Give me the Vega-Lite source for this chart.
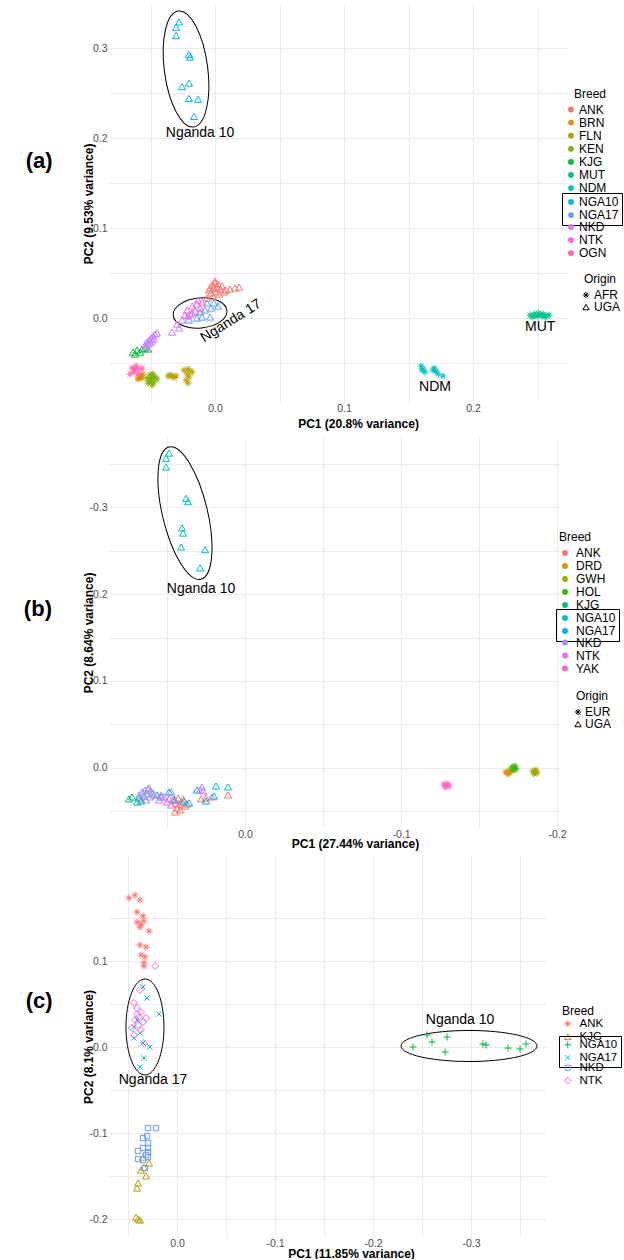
{
  "$schema": "https://vega.github.io/schema/vega-lite/v6.json",
  "padding": {"left": 23, "top": 5, "right": 0, "bottom": 0},
  "spacing": 7,
  "config": {
    "font": "Liberation Sans",
    "view": {"stroke": null},
    "axis": {"domain": false, "ticks": false, "grid": true, "gridColor": "#EBEBEB", "gridWidth": 1, "labelColor": "#4D4D4D", "labelFontSize": 10.5, "labelFont": "Liberation Sans", "titleFont": "Liberation Sans", "titleFontSize": 12, "titleFontWeight": "bold", "titleColor": "#000000", "labelPadding": 2},
    "axisX": {"labelPadding": 1, "titleBaseline": "middle"},
    "axisY": {"labelPadding": 2, "titleBaseline": "middle"},
    "legend": {"labelFont": "Liberation Sans", "titleFont": "Liberation Sans", "labelFontSize": 12, "titleFontSize": 12, "titleFontWeight": "normal", "labelColor": "#000000", "titleColor": "#000000", "rowPadding": -0.9, "titlePadding": 3, "labelOffset": 2, "padding": 0, "direction": "vertical"},
    "text": {"font": "Liberation Sans"},
    "title": {"font": "Liberation Sans"}
  },
  "datasets": {
    "a": [
      {"pc1": -0.0047, "pc2": 0.0311, "breed": "ANK", "origin": "UGA"},
      {"pc1": -0.0023, "pc2": 0.0367, "breed": "ANK", "origin": "UGA"},
      {"pc1": -0.0008, "pc2": 0.0333, "breed": "ANK", "origin": "UGA"},
      {"pc1": 0.0, "pc2": 0.0389, "breed": "ANK", "origin": "UGA"},
      {"pc1": 0.0016, "pc2": 0.0344, "breed": "ANK", "origin": "UGA"},
      {"pc1": -0.0031, "pc2": 0.0278, "breed": "ANK", "origin": "UGA"},
      {"pc1": 0.0008, "pc2": 0.0289, "breed": "ANK", "origin": "UGA"},
      {"pc1": 0.0039, "pc2": 0.0322, "breed": "ANK", "origin": "UGA"},
      {"pc1": -0.0016, "pc2": 0.0244, "breed": "ANK", "origin": "UGA"},
      {"pc1": 0.0023, "pc2": 0.0378, "breed": "ANK", "origin": "UGA"},
      {"pc1": 0.0054, "pc2": 0.0356, "breed": "ANK", "origin": "UGA"},
      {"pc1": 0.0085, "pc2": 0.0311, "breed": "ANK", "origin": "UGA"},
      {"pc1": 0.0116, "pc2": 0.0322, "breed": "ANK", "origin": "UGA"},
      {"pc1": 0.0155, "pc2": 0.0333, "breed": "ANK", "origin": "UGA"},
      {"pc1": 0.0186, "pc2": 0.0344, "breed": "ANK", "origin": "UGA"},
      {"pc1": -0.0062, "pc2": 0.0222, "breed": "ANK", "origin": "UGA"},
      {"pc1": 0.0, "pc2": 0.0411, "breed": "ANK", "origin": "UGA"},
      {"pc1": 0.0031, "pc2": 0.0267, "breed": "ANK", "origin": "UGA"},
      {"pc1": 0.007, "pc2": 0.0289, "breed": "ANK", "origin": "UGA"},
      {"pc1": -0.0039, "pc2": 0.0333, "breed": "ANK", "origin": "UGA"},
      {"pc1": -0.0581, "pc2": -0.0644, "breed": "BRN", "origin": "AFR"},
      {"pc1": -0.0566, "pc2": -0.0667, "breed": "BRN", "origin": "AFR"},
      {"pc1": -0.0597, "pc2": -0.0678, "breed": "BRN", "origin": "AFR"},
      {"pc1": -0.0558, "pc2": -0.0622, "breed": "BRN", "origin": "AFR"},
      {"pc1": -0.0575, "pc2": -0.0655, "breed": "BRN", "origin": "AFR"},
      {"pc1": -0.059, "pc2": -0.066, "breed": "BRN", "origin": "AFR"},
      {"pc1": -0.0364, "pc2": -0.0644, "breed": "FLN", "origin": "AFR"},
      {"pc1": -0.0333, "pc2": -0.0644, "breed": "FLN", "origin": "AFR"},
      {"pc1": -0.0302, "pc2": -0.0644, "breed": "FLN", "origin": "AFR"},
      {"pc1": -0.024, "pc2": -0.0578, "breed": "FLN", "origin": "AFR"},
      {"pc1": -0.0209, "pc2": -0.0567, "breed": "FLN", "origin": "AFR"},
      {"pc1": -0.0194, "pc2": -0.0589, "breed": "FLN", "origin": "AFR"},
      {"pc1": -0.0217, "pc2": -0.0622, "breed": "FLN", "origin": "AFR"},
      {"pc1": -0.0202, "pc2": -0.0656, "breed": "FLN", "origin": "AFR"},
      {"pc1": -0.0225, "pc2": -0.0689, "breed": "FLN", "origin": "AFR"},
      {"pc1": -0.0209, "pc2": -0.0722, "breed": "FLN", "origin": "AFR"},
      {"pc1": -0.0178, "pc2": -0.06, "breed": "FLN", "origin": "AFR"},
      {"pc1": -0.0348, "pc2": -0.0633, "breed": "FLN", "origin": "AFR"},
      {"pc1": -0.0318, "pc2": -0.066, "breed": "FLN", "origin": "AFR"},
      {"pc1": -0.0527, "pc2": -0.0667, "breed": "KEN", "origin": "AFR"},
      {"pc1": -0.0504, "pc2": -0.0633, "breed": "KEN", "origin": "AFR"},
      {"pc1": -0.0481, "pc2": -0.0622, "breed": "KEN", "origin": "AFR"},
      {"pc1": -0.0465, "pc2": -0.0656, "breed": "KEN", "origin": "AFR"},
      {"pc1": -0.0496, "pc2": -0.0689, "breed": "KEN", "origin": "AFR"},
      {"pc1": -0.0519, "pc2": -0.0722, "breed": "KEN", "origin": "AFR"},
      {"pc1": -0.0473, "pc2": -0.0711, "breed": "KEN", "origin": "AFR"},
      {"pc1": -0.045, "pc2": -0.0678, "breed": "KEN", "origin": "AFR"},
      {"pc1": -0.0488, "pc2": -0.0744, "breed": "KEN", "origin": "AFR"},
      {"pc1": -0.051, "pc2": -0.07, "breed": "KEN", "origin": "AFR"},
      {"pc1": -0.0492, "pc2": -0.066, "breed": "KEN", "origin": "AFR"},
      {"pc1": -0.0636, "pc2": -0.0378, "breed": "KJG", "origin": "UGA"},
      {"pc1": -0.0605, "pc2": -0.0356, "breed": "KJG", "origin": "UGA"},
      {"pc1": -0.0566, "pc2": -0.0344, "breed": "KJG", "origin": "UGA"},
      {"pc1": -0.0543, "pc2": -0.0333, "breed": "KJG", "origin": "UGA"},
      {"pc1": -0.0519, "pc2": -0.0344, "breed": "KJG", "origin": "UGA"},
      {"pc1": -0.0581, "pc2": -0.0378, "breed": "KJG", "origin": "UGA"},
      {"pc1": -0.062, "pc2": -0.04, "breed": "KJG", "origin": "UGA"},
      {"pc1": 0.2442, "pc2": 0.0033, "breed": "MUT", "origin": "AFR"},
      {"pc1": 0.2473, "pc2": 0.0044, "breed": "MUT", "origin": "AFR"},
      {"pc1": 0.2496, "pc2": 0.0022, "breed": "MUT", "origin": "AFR"},
      {"pc1": 0.2519, "pc2": 0.0033, "breed": "MUT", "origin": "AFR"},
      {"pc1": 0.2543, "pc2": 0.0044, "breed": "MUT", "origin": "AFR"},
      {"pc1": 0.2566, "pc2": 0.0022, "breed": "MUT", "origin": "AFR"},
      {"pc1": 0.2589, "pc2": 0.0033, "breed": "MUT", "origin": "AFR"},
      {"pc1": 0.2457, "pc2": 0.0011, "breed": "MUT", "origin": "AFR"},
      {"pc1": 0.2504, "pc2": 0.0056, "breed": "MUT", "origin": "AFR"},
      {"pc1": 0.2558, "pc2": 0.0011, "breed": "MUT", "origin": "AFR"},
      {"pc1": 0.2481, "pc2": 0.0028, "breed": "MUT", "origin": "AFR"},
      {"pc1": 0.2535, "pc2": 0.0025, "breed": "MUT", "origin": "AFR"},
      {"pc1": 0.1597, "pc2": -0.0533, "breed": "NDM", "origin": "AFR"},
      {"pc1": 0.1612, "pc2": -0.0567, "breed": "NDM", "origin": "AFR"},
      {"pc1": 0.1628, "pc2": -0.06, "breed": "NDM", "origin": "AFR"},
      {"pc1": 0.169, "pc2": -0.0578, "breed": "NDM", "origin": "AFR"},
      {"pc1": 0.1713, "pc2": -0.0589, "breed": "NDM", "origin": "AFR"},
      {"pc1": 0.1729, "pc2": -0.0622, "breed": "NDM", "origin": "AFR"},
      {"pc1": 0.1767, "pc2": -0.0644, "breed": "NDM", "origin": "AFR"},
      {"pc1": 0.1698, "pc2": -0.0556, "breed": "NDM", "origin": "AFR"},
      {"pc1": 0.1605, "pc2": -0.0578, "breed": "NDM", "origin": "AFR"},
      {"pc1": -0.0279, "pc2": 0.329, "breed": "NGA10", "origin": "UGA"},
      {"pc1": -0.0302, "pc2": 0.323, "breed": "NGA10", "origin": "UGA"},
      {"pc1": -0.0302, "pc2": 0.314, "breed": "NGA10", "origin": "UGA"},
      {"pc1": -0.0202, "pc2": 0.293, "breed": "NGA10", "origin": "UGA"},
      {"pc1": -0.0194, "pc2": 0.29, "breed": "NGA10", "origin": "UGA"},
      {"pc1": -0.0202, "pc2": 0.261, "breed": "NGA10", "origin": "UGA"},
      {"pc1": -0.0256, "pc2": 0.257, "breed": "NGA10", "origin": "UGA"},
      {"pc1": -0.0202, "pc2": 0.244, "breed": "NGA10", "origin": "UGA"},
      {"pc1": -0.0132, "pc2": 0.243, "breed": "NGA10", "origin": "UGA"},
      {"pc1": -0.0163, "pc2": 0.224, "breed": "NGA10", "origin": "UGA"},
      {"pc1": -0.0178, "pc2": 0.0056, "breed": "NGA17", "origin": "UGA"},
      {"pc1": -0.0116, "pc2": 0.0067, "breed": "NGA17", "origin": "UGA"},
      {"pc1": -0.0101, "pc2": 0.0011, "breed": "NGA17", "origin": "UGA"},
      {"pc1": -0.0039, "pc2": 0.0011, "breed": "NGA17", "origin": "UGA"},
      {"pc1": -0.0062, "pc2": 0.0167, "breed": "NGA17", "origin": "UGA"},
      {"pc1": -0.0008, "pc2": 0.0167, "breed": "NGA17", "origin": "UGA"},
      {"pc1": 0.0023, "pc2": 0.0133, "breed": "NGA17", "origin": "UGA"},
      {"pc1": -0.0031, "pc2": 0.0111, "breed": "NGA17", "origin": "UGA"},
      {"pc1": -0.014, "pc2": 0.0, "breed": "NGA17", "origin": "UGA"},
      {"pc1": -0.0202, "pc2": -0.0022, "breed": "NGA17", "origin": "UGA"},
      {"pc1": -0.0078, "pc2": 0.0089, "breed": "NGA17", "origin": "UGA"},
      {"pc1": -0.0333, "pc2": -0.0156, "breed": "NKD", "origin": "UGA"},
      {"pc1": -0.0279, "pc2": -0.0111, "breed": "NKD", "origin": "UGA"},
      {"pc1": -0.0256, "pc2": -0.0022, "breed": "NKD", "origin": "UGA"},
      {"pc1": -0.0209, "pc2": 0.0022, "breed": "NKD", "origin": "UGA"},
      {"pc1": -0.0295, "pc2": -0.0067, "breed": "NKD", "origin": "UGA"},
      {"pc1": -0.0543, "pc2": -0.03, "breed": "NKD", "origin": "UGA"},
      {"pc1": -0.0527, "pc2": -0.0267, "breed": "NKD", "origin": "UGA"},
      {"pc1": -0.0512, "pc2": -0.0244, "breed": "NKD", "origin": "UGA"},
      {"pc1": -0.0496, "pc2": -0.0222, "breed": "NKD", "origin": "UGA"},
      {"pc1": -0.0481, "pc2": -0.02, "breed": "NKD", "origin": "UGA"},
      {"pc1": -0.0465, "pc2": -0.0178, "breed": "NKD", "origin": "UGA"},
      {"pc1": -0.0519, "pc2": -0.0289, "breed": "NKD", "origin": "UGA"},
      {"pc1": -0.0488, "pc2": -0.0256, "breed": "NKD", "origin": "UGA"},
      {"pc1": -0.0473, "pc2": -0.0233, "breed": "NKD", "origin": "UGA"},
      {"pc1": -0.0504, "pc2": -0.0278, "breed": "NKD", "origin": "UGA"},
      {"pc1": -0.045, "pc2": -0.0167, "breed": "NKD", "origin": "UGA"},
      {"pc1": -0.0535, "pc2": -0.0322, "breed": "NKD", "origin": "UGA"},
      {"pc1": -0.0217, "pc2": 0.0089, "breed": "NTK", "origin": "UGA"},
      {"pc1": -0.0178, "pc2": 0.0133, "breed": "NTK", "origin": "UGA"},
      {"pc1": -0.014, "pc2": 0.0156, "breed": "NTK", "origin": "UGA"},
      {"pc1": -0.0116, "pc2": 0.0111, "breed": "NTK", "origin": "UGA"},
      {"pc1": -0.0194, "pc2": 0.0044, "breed": "NTK", "origin": "UGA"},
      {"pc1": -0.0155, "pc2": 0.0078, "breed": "NTK", "origin": "UGA"},
      {"pc1": -0.0101, "pc2": 0.0178, "breed": "NTK", "origin": "UGA"},
      {"pc1": -0.0233, "pc2": 0.0033, "breed": "NTK", "origin": "UGA"},
      {"pc1": -0.0132, "pc2": 0.02, "breed": "NTK", "origin": "UGA"},
      {"pc1": -0.0643, "pc2": -0.0556, "breed": "OGN", "origin": "AFR"},
      {"pc1": -0.0612, "pc2": -0.0533, "breed": "OGN", "origin": "AFR"},
      {"pc1": -0.0589, "pc2": -0.0578, "breed": "OGN", "origin": "AFR"},
      {"pc1": -0.0628, "pc2": -0.06, "breed": "OGN", "origin": "AFR"},
      {"pc1": -0.0659, "pc2": -0.0622, "breed": "OGN", "origin": "AFR"},
      {"pc1": -0.0597, "pc2": -0.0622, "breed": "OGN", "origin": "AFR"},
      {"pc1": -0.0566, "pc2": -0.0556, "breed": "OGN", "origin": "AFR"},
      {"pc1": -0.062, "pc2": -0.0567, "breed": "OGN", "origin": "AFR"}
    ],
    "b": [
      {"pc1": 0.0462, "pc2": 0.0368, "breed": "ANK", "origin": "UGA"},
      {"pc1": 0.0442, "pc2": 0.0402, "breed": "ANK", "origin": "UGA"},
      {"pc1": 0.0423, "pc2": 0.0425, "breed": "ANK", "origin": "UGA"},
      {"pc1": 0.0404, "pc2": 0.0391, "breed": "ANK", "origin": "UGA"},
      {"pc1": 0.0385, "pc2": 0.0437, "breed": "ANK", "origin": "UGA"},
      {"pc1": 0.0436, "pc2": 0.046, "breed": "ANK", "origin": "UGA"},
      {"pc1": 0.0417, "pc2": 0.0483, "breed": "ANK", "origin": "UGA"},
      {"pc1": 0.0449, "pc2": 0.0506, "breed": "ANK", "origin": "UGA"},
      {"pc1": 0.0397, "pc2": 0.0356, "breed": "ANK", "origin": "UGA"},
      {"pc1": 0.0429, "pc2": 0.0345, "breed": "ANK", "origin": "UGA"},
      {"pc1": 0.0282, "pc2": 0.0356, "breed": "ANK", "origin": "UGA"},
      {"pc1": 0.025, "pc2": 0.0345, "breed": "ANK", "origin": "UGA"},
      {"pc1": 0.0212, "pc2": 0.0333, "breed": "ANK", "origin": "UGA"},
      {"pc1": 0.0109, "pc2": 0.031, "breed": "ANK", "origin": "UGA"},
      {"pc1": 0.0372, "pc2": 0.0414, "breed": "ANK", "origin": "UGA"},
      {"pc1": -0.1673, "pc2": 0.0046, "breed": "DRD", "origin": "EUR"},
      {"pc1": -0.1692, "pc2": 0.0057, "breed": "DRD", "origin": "EUR"},
      {"pc1": -0.1705, "pc2": 0.0034, "breed": "DRD", "origin": "EUR"},
      {"pc1": -0.1686, "pc2": 0.0069, "breed": "DRD", "origin": "EUR"},
      {"pc1": -0.168, "pc2": 0.005, "breed": "DRD", "origin": "EUR"},
      {"pc1": -0.1846, "pc2": 0.0034, "breed": "GWH", "origin": "EUR"},
      {"pc1": -0.1859, "pc2": 0.0046, "breed": "GWH", "origin": "EUR"},
      {"pc1": -0.1872, "pc2": 0.0057, "breed": "GWH", "origin": "EUR"},
      {"pc1": -0.1865, "pc2": 0.0023, "breed": "GWH", "origin": "EUR"},
      {"pc1": -0.1853, "pc2": 0.0069, "breed": "GWH", "origin": "EUR"},
      {"pc1": -0.1718, "pc2": -0.0011, "breed": "HOL", "origin": "EUR"},
      {"pc1": -0.1731, "pc2": -0.0023, "breed": "HOL", "origin": "EUR"},
      {"pc1": -0.1737, "pc2": 0.0011, "breed": "HOL", "origin": "EUR"},
      {"pc1": -0.1724, "pc2": 0.0023, "breed": "HOL", "origin": "EUR"},
      {"pc1": -0.171, "pc2": 0.0, "breed": "HOL", "origin": "EUR"},
      {"pc1": 0.0744, "pc2": 0.0356, "breed": "KJG", "origin": "UGA"},
      {"pc1": 0.0724, "pc2": 0.0333, "breed": "KJG", "origin": "UGA"},
      {"pc1": 0.0667, "pc2": 0.0379, "breed": "KJG", "origin": "UGA"},
      {"pc1": 0.0679, "pc2": 0.0345, "breed": "KJG", "origin": "UGA"},
      {"pc1": 0.0692, "pc2": 0.0391, "breed": "KJG", "origin": "UGA"},
      {"pc1": 0.0487, "pc2": -0.362, "breed": "NGA10", "origin": "UGA"},
      {"pc1": 0.0506, "pc2": -0.356, "breed": "NGA10", "origin": "UGA"},
      {"pc1": 0.0506, "pc2": -0.346, "breed": "NGA10", "origin": "UGA"},
      {"pc1": 0.0378, "pc2": -0.31, "breed": "NGA10", "origin": "UGA"},
      {"pc1": 0.0365, "pc2": -0.306, "breed": "NGA10", "origin": "UGA"},
      {"pc1": 0.0404, "pc2": -0.276, "breed": "NGA10", "origin": "UGA"},
      {"pc1": 0.0397, "pc2": -0.27, "breed": "NGA10", "origin": "UGA"},
      {"pc1": 0.041, "pc2": -0.254, "breed": "NGA10", "origin": "UGA"},
      {"pc1": 0.0256, "pc2": -0.251, "breed": "NGA10", "origin": "UGA"},
      {"pc1": 0.0288, "pc2": -0.23, "breed": "NGA10", "origin": "UGA"},
      {"pc1": 0.0564, "pc2": 0.031, "breed": "NGA17", "origin": "UGA"},
      {"pc1": 0.0487, "pc2": 0.0276, "breed": "NGA17", "origin": "UGA"},
      {"pc1": 0.0359, "pc2": 0.0402, "breed": "NGA17", "origin": "UGA"},
      {"pc1": 0.0308, "pc2": 0.0253, "breed": "NGA17", "origin": "UGA"},
      {"pc1": 0.0186, "pc2": 0.0207, "breed": "NGA17", "origin": "UGA"},
      {"pc1": 0.0109, "pc2": 0.0218, "breed": "NGA17", "origin": "UGA"},
      {"pc1": 0.0199, "pc2": 0.0322, "breed": "NGA17", "origin": "UGA"},
      {"pc1": 0.025, "pc2": 0.0379, "breed": "NGA17", "origin": "UGA"},
      {"pc1": 0.0449, "pc2": 0.0368, "breed": "NGA17", "origin": "UGA"},
      {"pc1": 0.0538, "pc2": 0.0333, "breed": "NGA17", "origin": "UGA"},
      {"pc1": 0.0391, "pc2": 0.0379, "breed": "NGA17", "origin": "UGA"},
      {"pc1": 0.0679, "pc2": 0.031, "breed": "NKD", "origin": "UGA"},
      {"pc1": 0.066, "pc2": 0.0276, "breed": "NKD", "origin": "UGA"},
      {"pc1": 0.0641, "pc2": 0.0253, "breed": "NKD", "origin": "UGA"},
      {"pc1": 0.0622, "pc2": 0.0241, "breed": "NKD", "origin": "UGA"},
      {"pc1": 0.0603, "pc2": 0.0264, "breed": "NKD", "origin": "UGA"},
      {"pc1": 0.0647, "pc2": 0.0322, "breed": "NKD", "origin": "UGA"},
      {"pc1": 0.0628, "pc2": 0.0299, "breed": "NKD", "origin": "UGA"},
      {"pc1": 0.0609, "pc2": 0.0333, "breed": "NKD", "origin": "UGA"},
      {"pc1": 0.059, "pc2": 0.0287, "breed": "NKD", "origin": "UGA"},
      {"pc1": 0.0667, "pc2": 0.0356, "breed": "NKD", "origin": "UGA"},
      {"pc1": 0.0635, "pc2": 0.0368, "breed": "NKD", "origin": "UGA"},
      {"pc1": 0.0615, "pc2": 0.023, "breed": "NKD", "origin": "UGA"},
      {"pc1": 0.0583, "pc2": 0.031, "breed": "NKD", "origin": "UGA"},
      {"pc1": 0.0276, "pc2": 0.0218, "breed": "NKD", "origin": "UGA"},
      {"pc1": 0.0288, "pc2": 0.0253, "breed": "NKD", "origin": "UGA"},
      {"pc1": 0.0474, "pc2": 0.0276, "breed": "NKD", "origin": "UGA"},
      {"pc1": 0.0455, "pc2": 0.0356, "breed": "NKD", "origin": "UGA"},
      {"pc1": 0.0551, "pc2": 0.0368, "breed": "NTK", "origin": "UGA"},
      {"pc1": 0.0519, "pc2": 0.0333, "breed": "NTK", "origin": "UGA"},
      {"pc1": 0.05, "pc2": 0.0391, "breed": "NTK", "origin": "UGA"},
      {"pc1": 0.0538, "pc2": 0.031, "breed": "NTK", "origin": "UGA"},
      {"pc1": 0.0474, "pc2": 0.0425, "breed": "NTK", "origin": "UGA"},
      {"pc1": 0.0269, "pc2": 0.0264, "breed": "NTK", "origin": "UGA"},
      {"pc1": 0.0487, "pc2": 0.0356, "breed": "NTK", "origin": "UGA"},
      {"pc1": -0.1276, "pc2": 0.0184, "breed": "YAK", "origin": "EUR"},
      {"pc1": -0.1288, "pc2": 0.0207, "breed": "YAK", "origin": "EUR"},
      {"pc1": -0.1301, "pc2": 0.0195, "breed": "YAK", "origin": "EUR"},
      {"pc1": -0.1282, "pc2": 0.0218, "breed": "YAK", "origin": "EUR"},
      {"pc1": -0.1295, "pc2": 0.0184, "breed": "YAK", "origin": "EUR"},
      {"pc1": -0.1308, "pc2": 0.0207, "breed": "YAK", "origin": "EUR"}
    ],
    "c": [
      {"pc1": 0.049, "pc2": 0.1733, "breed": "ANK"},
      {"pc1": 0.0429, "pc2": 0.1767, "breed": "ANK"},
      {"pc1": 0.0378, "pc2": 0.1709, "breed": "ANK"},
      {"pc1": 0.0408, "pc2": 0.157, "breed": "ANK"},
      {"pc1": 0.0347, "pc2": 0.1523, "breed": "ANK"},
      {"pc1": 0.0408, "pc2": 0.1453, "breed": "ANK"},
      {"pc1": 0.0367, "pc2": 0.143, "breed": "ANK"},
      {"pc1": 0.0337, "pc2": 0.1465, "breed": "ANK"},
      {"pc1": 0.0378, "pc2": 0.1395, "breed": "ANK"},
      {"pc1": 0.0286, "pc2": 0.1349, "breed": "ANK"},
      {"pc1": 0.0378, "pc2": 0.1186, "breed": "ANK"},
      {"pc1": 0.0316, "pc2": 0.1163, "breed": "ANK"},
      {"pc1": 0.0367, "pc2": 0.107, "breed": "ANK"},
      {"pc1": 0.0327, "pc2": 0.1047, "breed": "ANK"},
      {"pc1": 0.0337, "pc2": 0.0977, "breed": "ANK"},
      {"pc1": 0.0337, "pc2": 0.0942, "breed": "ANK"},
      {"pc1": 0.0347, "pc2": -0.128, "breed": "KJG"},
      {"pc1": 0.0286, "pc2": -0.1349, "breed": "KJG"},
      {"pc1": 0.0367, "pc2": -0.143, "breed": "KJG"},
      {"pc1": 0.0316, "pc2": -0.15, "breed": "KJG"},
      {"pc1": 0.0398, "pc2": -0.158, "breed": "KJG"},
      {"pc1": 0.0408, "pc2": -0.164, "breed": "KJG"},
      {"pc1": 0.0418, "pc2": -0.1977, "breed": "KJG"},
      {"pc1": 0.0398, "pc2": -0.2, "breed": "KJG"},
      {"pc1": 0.0378, "pc2": -0.2012, "breed": "KJG"},
      {"pc1": 0.0337, "pc2": -0.14, "breed": "KJG"},
      {"pc1": -0.2408, "pc2": 0.0, "breed": "NGA10"},
      {"pc1": -0.2551, "pc2": 0.014, "breed": "NGA10"},
      {"pc1": -0.2602, "pc2": 0.0058, "breed": "NGA10"},
      {"pc1": -0.2755, "pc2": 0.0116, "breed": "NGA10"},
      {"pc1": -0.2735, "pc2": -0.0058, "breed": "NGA10"},
      {"pc1": -0.3122, "pc2": 0.0035, "breed": "NGA10"},
      {"pc1": -0.3153, "pc2": 0.0023, "breed": "NGA10"},
      {"pc1": -0.3378, "pc2": -0.0012, "breed": "NGA10"},
      {"pc1": -0.35, "pc2": -0.0023, "breed": "NGA10"},
      {"pc1": -0.3561, "pc2": 0.0035, "breed": "NGA10"},
      {"pc1": 0.0347, "pc2": 0.0698, "breed": "NGA17"},
      {"pc1": 0.0306, "pc2": 0.057, "breed": "NGA17"},
      {"pc1": 0.0184, "pc2": 0.0384, "breed": "NGA17"},
      {"pc1": 0.0439, "pc2": 0.0233, "breed": "NGA17"},
      {"pc1": 0.0378, "pc2": 0.0163, "breed": "NGA17"},
      {"pc1": 0.0439, "pc2": 0.0105, "breed": "NGA17"},
      {"pc1": 0.0347, "pc2": 0.0047, "breed": "NGA17"},
      {"pc1": 0.0276, "pc2": 0.0, "breed": "NGA17"},
      {"pc1": 0.0337, "pc2": -0.0128, "breed": "NGA17"},
      {"pc1": 0.0378, "pc2": -0.0233, "breed": "NGA17"},
      {"pc1": 0.0408, "pc2": 0.0314, "breed": "NGA17"},
      {"pc1": 0.0296, "pc2": -0.0942, "breed": "NKD"},
      {"pc1": 0.0214, "pc2": -0.0942, "breed": "NKD"},
      {"pc1": 0.0306, "pc2": -0.1035, "breed": "NKD"},
      {"pc1": 0.0347, "pc2": -0.1058, "breed": "NKD"},
      {"pc1": 0.0296, "pc2": -0.1116, "breed": "NKD"},
      {"pc1": 0.0296, "pc2": -0.1174, "breed": "NKD"},
      {"pc1": 0.0398, "pc2": -0.1209, "breed": "NKD"},
      {"pc1": 0.0347, "pc2": -0.1174, "breed": "NKD"},
      {"pc1": 0.0296, "pc2": -0.1221, "breed": "NKD"},
      {"pc1": 0.0316, "pc2": -0.1256, "breed": "NKD"},
      {"pc1": 0.0398, "pc2": -0.1302, "breed": "NKD"},
      {"pc1": 0.0347, "pc2": -0.1314, "breed": "NKD"},
      {"pc1": 0.0296, "pc2": -0.1279, "breed": "NKD"},
      {"pc1": 0.0327, "pc2": -0.1407, "breed": "NKD"},
      {"pc1": 0.0224, "pc2": 0.0942, "breed": "NTK"},
      {"pc1": 0.0378, "pc2": 0.0663, "breed": "NTK"},
      {"pc1": 0.0439, "pc2": 0.0512, "breed": "NTK"},
      {"pc1": 0.0408, "pc2": 0.0453, "breed": "NTK"},
      {"pc1": 0.0367, "pc2": 0.0407, "breed": "NTK"},
      {"pc1": 0.0388, "pc2": 0.0349, "breed": "NTK"},
      {"pc1": 0.0429, "pc2": 0.0314, "breed": "NTK"},
      {"pc1": 0.0347, "pc2": 0.0291, "breed": "NTK"},
      {"pc1": 0.0398, "pc2": 0.0256, "breed": "NTK"},
      {"pc1": 0.0459, "pc2": 0.0221, "breed": "NTK"},
      {"pc1": 0.0367, "pc2": 0.0198, "breed": "NTK"},
      {"pc1": 0.0439, "pc2": 0.014, "breed": "NTK"},
      {"pc1": 0.0337, "pc2": 0.0047, "breed": "NTK"},
      {"pc1": 0.0408, "pc2": 0.0384, "breed": "NTK"},
      {"pc1": 0.0316, "pc2": 0.0337, "breed": "NTK"}
    ]
  },
  "vconcat": [
    {
      "width": 459,
      "height": 397,
      "title": {"text": "(a)", "orient": "left", "angle": 0, "anchor": "middle", "align": "center", "baseline": "middle", "fontSize": 22, "fontWeight": "bold", "color": "#000000", "offset": 16, "dy": -43},
      "encoding": {
        "x": {"field": "pc1", "type": "quantitative", "scale": {"domain": [-0.0822, 0.2736], "nice": false, "zero": false},
          "axis": {"title": "PC1 (20.8% variance)", "values": [-0.05, 0, 0.05, 0.1, 0.15, 0.2, 0.25], "labelExpr": "abs(datum.value*10 - round(datum.value*10)) < 0.001 ? replace(format(datum.value, '.1f'), '\u2212', '-') : ''", "titleX": 249, "titleY": 21.5}},
        "y": {"field": "pc2", "type": "quantitative", "scale": {"domain": [-0.0933, 0.3478], "nice": false, "zero": false},
          "axis": {"title": "PC2 (9.53% variance)", "values": [-0.05, 0, 0.05, 0.1, 0.15, 0.2, 0.25, 0.3], "labelExpr": "abs(datum.value*10 - round(datum.value*10)) < 0.001 ? replace(format(datum.value, '.1f'), '\u2212', '-') : ''", "titleX": -21}}
      },
      "layer": [
        {"data": {"values": [{"pc1": -0.0225, "pc2": 0.2767}]},
          "mark": {"type": "point", "shape": "M0.371,0C0.371,0.5523 0.2049,1 0,1C-0.2049,1 -0.371,0.5523 -0.371,0C-0.371,-0.5523 -0.2049,-1 0,-1C0.2049,-1 0.371,-0.5523 0.371,0Z", "size": 13689, "angle": -7.5, "filled": false, "stroke": "#000000", "strokeWidth": 1, "opacity": 1}},
        {"data": {"values": [{"pc1": -0.0116, "pc2": 0.0056}]},
          "mark": {"type": "point", "shape": "M1,0C1,0.3071 0.5523,0.556 0,0.556C-0.5523,0.556 -1,0.3071 -1,0C-1,-0.3071 -0.5523,-0.556 0,-0.556C0.5523,-0.556 1,-0.3071 1,0Z", "size": 2916, "angle": -5, "filled": false, "stroke": "#000000", "strokeWidth": 1, "opacity": 1}},
        {"data": {"name": "a"}, "transform": [{"filter": {"field": "breed", "oneOf": ["ANK", "BRN", "FLN", "KEN", "KJG", "MUT", "NDM"]}}],
          "mark": {"type": "point", "filled": false, "strokeWidth": 1, "opacity": 1, "size": 50},
          "encoding": {
            "color": {"field": "breed", "type": "nominal", "scale": {"domain": ["ANK", "BRN", "FLN", "KEN", "KJG", "MUT", "NDM"], "range": ["#F8766D", "#DE8C00", "#B79F00", "#7CAE00", "#00BA38", "#00C08B", "#00BFC4"]},
              "legend": {"title": "Breed", "orient": "none", "legendX": 456, "legendY": 83.5, "symbolType": "circle", "symbolSize": 10, "symbolStrokeWidth": 2.6, "titleAnchor": "end"}},
            "shape": {"field": "origin", "type": "nominal", "scale": {"domain": ["AFR", "UGA"], "range": ["M-1,0L1,0M0,-1L0,1M-0.7,-0.7L0.7,0.7M-0.7,0.7L0.7,-0.7", "triangle-up"]},
              "legend": {"title": "Origin", "orient": "none", "legendX": 471, "legendY": 269, "symbolStrokeColor": "#000000", "symbolSize": 40, "symbolStrokeWidth": 1, "titleAnchor": "middle"}}
          }},
        {"data": {"name": "a"}, "transform": [{"filter": {"field": "breed", "oneOf": ["NGA10", "NGA17"]}}],
          "mark": {"type": "point", "filled": false, "strokeWidth": 1, "opacity": 1, "size": 50},
          "encoding": {
            "color": {"field": "breed", "type": "nominal", "scale": {"domain": ["NGA10", "NGA17"], "range": ["#00B4F0", "#619CFF"]},
              "legend": {"title": null, "orient": "none", "legendX": 453, "legendY": 188, "padding": 3, "strokeColor": "#000000", "symbolType": "circle", "symbolSize": 10, "symbolStrokeWidth": 2.6}},
            "shape": {"field": "origin", "type": "nominal", "scale": {"domain": ["AFR", "UGA"], "range": ["M-1,0L1,0M0,-1L0,1M-0.7,-0.7L0.7,0.7M-0.7,0.7L0.7,-0.7", "triangle-up"]},
              "legend": {"title": "Origin", "orient": "none", "legendX": 471, "legendY": 269, "symbolStrokeColor": "#000000", "symbolSize": 40, "symbolStrokeWidth": 1, "titleAnchor": "middle"}}
          }},
        {"data": {"name": "a"}, "transform": [{"filter": {"field": "breed", "oneOf": ["NKD", "NTK", "OGN"]}}],
          "mark": {"type": "point", "filled": false, "strokeWidth": 1, "opacity": 1, "size": 50},
          "encoding": {
            "color": {"field": "breed", "type": "nominal", "scale": {"domain": ["NKD", "NTK", "OGN"], "range": ["#C77CFF", "#F564E3", "#FF64B0"]},
              "legend": {"title": null, "orient": "none", "legendX": 456, "legendY": 216, "symbolType": "circle", "symbolSize": 10, "symbolStrokeWidth": 2.6}},
            "shape": {"field": "origin", "type": "nominal", "scale": {"domain": ["AFR", "UGA"], "range": ["M-1,0L1,0M0,-1L0,1M-0.7,-0.7L0.7,0.7M-0.7,0.7L0.7,-0.7", "triangle-up"]},
              "legend": {"title": "Origin", "orient": "none", "legendX": 471, "legendY": 269, "symbolStrokeColor": "#000000", "symbolSize": 40, "symbolStrokeWidth": 1, "titleAnchor": "middle"}}
          }},
        {"data": {"values": [{"pc1": -0.0116, "pc2": 0.2056, "label": "Nganda 10"}, {"pc1": 0.252, "pc2": -0.01, "label": "MUT"}, {"pc1": 0.1705, "pc2": -0.0767, "label": "NDM"}]},
          "mark": {"type": "text", "fontSize": 14, "color": "#000000", "align": "center", "baseline": "middle"},
          "encoding": {"text": {"field": "label"}}},
        {"data": {"values": [{"pc1": 0.0124, "pc2": -0.0033, "label": "Nganda 17"}]},
          "mark": {"type": "text", "fontSize": 14, "color": "#000000", "align": "center", "baseline": "middle", "angle": -32},
          "encoding": {"text": {"field": "label"}}}
      ],
      "resolve": {"scale": {"color": "independent"}}
    },
    {
      "width": 450,
      "height": 391,
      "title": {"text": "(b)", "orient": "left", "angle": 0, "anchor": "middle", "align": "center", "baseline": "middle", "fontSize": 22, "fontWeight": "bold", "color": "#000000", "offset": 16, "dy": -24},
      "encoding": {
        "x": {"field": "pc1", "type": "quantitative", "scale": {"domain": [-0.2013, 0.0872], "reverse": true, "nice": false, "zero": false},
          "axis": {"title": "PC1 (27.44% variance)", "values": [0.05, 0, -0.05, -0.1, -0.15, -0.2], "labelExpr": "abs(datum.value*10 - round(datum.value*10)) < 0.001 ? replace(format(datum.value, '.1f'), '\u2212', '-') : ''", "titleX": 246, "titleY": 15}},
        "y": {"field": "pc2", "type": "quantitative", "scale": {"domain": [-0.3805, 0.069], "reverse": true, "nice": false, "zero": false},
          "axis": {"title": "PC2 (8.64% variance)", "values": [-0.35, -0.3, -0.25, -0.2, -0.15, -0.1, -0.05, 0, 0.05], "labelExpr": "abs(datum.value*10 - round(datum.value*10)) < 0.001 ? replace(format(datum.value, '.1f'), '\u2212', '-') : ''", "titleX": -21}}
      },
      "layer": [
        {"data": {"values": [{"pc1": 0.0385, "pc2": -0.293}]},
          "mark": {"type": "point", "shape": "M0.331,0C0.331,0.5523 0.1828,1 0,1C-0.1828,1 -0.331,0.5523 -0.331,0C-0.331,-0.5523 -0.1828,-1 0,-1C0.1828,-1 0.331,-0.5523 0.331,0Z", "size": 18496, "angle": -13.5, "filled": false, "stroke": "#000000", "strokeWidth": 1, "opacity": 1}},
        {"data": {"name": "b"}, "transform": [{"filter": {"field": "breed", "oneOf": ["ANK", "DRD", "GWH", "HOL", "KJG"]}}],
          "mark": {"type": "point", "filled": false, "strokeWidth": 1, "opacity": 1, "size": 50},
          "encoding": {
            "color": {"field": "breed", "type": "nominal", "scale": {"domain": ["ANK", "DRD", "GWH", "HOL", "KJG"], "range": ["#F8766D", "#D89000", "#A3A500", "#39B600", "#00BF7D"]},
              "legend": {"title": "Breed", "orient": "none", "legendX": 450, "legendY": 95, "symbolType": "circle", "symbolSize": 10, "symbolStrokeWidth": 2.6, "titleAnchor": "start", "rowPadding": -1.4, "labelOffset": 5}},
            "shape": {"field": "origin", "type": "nominal", "scale": {"domain": ["EUR", "UGA"], "range": ["M-1,0L1,0M0,-1L0,1M-0.7,-0.7L0.7,0.7M-0.7,0.7L0.7,-0.7", "triangle-up"]},
              "legend": {"title": "Origin", "orient": "none", "legendX": 463, "legendY": 254, "symbolStrokeColor": "#000000", "symbolSize": 40, "symbolStrokeWidth": 1, "titleAnchor": "middle", "labelOffset": 1}}
          }},
        {"data": {"name": "b"}, "transform": [{"filter": {"field": "breed", "oneOf": ["NGA10", "NGA17"]}}],
          "mark": {"type": "point", "filled": false, "strokeWidth": 1, "opacity": 1, "size": 50},
          "encoding": {
            "color": {"field": "breed", "type": "nominal", "scale": {"domain": ["NGA10", "NGA17"], "range": ["#00BFC4", "#00B0F6"]},
              "legend": {"title": null, "orient": "none", "legendX": 447, "legendY": 172, "padding": 3, "strokeColor": "#000000", "symbolType": "circle", "symbolSize": 10, "symbolStrokeWidth": 2.6, "rowPadding": -1.4, "labelOffset": 5}},
            "shape": {"field": "origin", "type": "nominal", "scale": {"domain": ["EUR", "UGA"], "range": ["M-1,0L1,0M0,-1L0,1M-0.7,-0.7L0.7,0.7M-0.7,0.7L0.7,-0.7", "triangle-up"]},
              "legend": {"title": "Origin", "orient": "none", "legendX": 463, "legendY": 254, "symbolStrokeColor": "#000000", "symbolSize": 40, "symbolStrokeWidth": 1, "titleAnchor": "middle", "labelOffset": 1}}
          }},
        {"data": {"name": "b"}, "transform": [{"filter": {"field": "breed", "oneOf": ["NKD", "NTK", "YAK"]}}],
          "mark": {"type": "point", "filled": false, "strokeWidth": 1, "opacity": 1, "size": 50},
          "encoding": {
            "color": {"field": "breed", "type": "nominal", "scale": {"domain": ["NKD", "NTK", "YAK"], "range": ["#9590FF", "#E76BF3", "#FF62BC"]},
              "legend": {"title": null, "orient": "none", "legendX": 450, "legendY": 199.5, "symbolType": "circle", "symbolSize": 10, "symbolStrokeWidth": 2.6, "rowPadding": -1.4, "labelOffset": 5}},
            "shape": {"field": "origin", "type": "nominal", "scale": {"domain": ["EUR", "UGA"], "range": ["M-1,0L1,0M0,-1L0,1M-0.7,-0.7L0.7,0.7M-0.7,0.7L0.7,-0.7", "triangle-up"]},
              "legend": {"title": "Origin", "orient": "none", "legendX": 463, "legendY": 254, "symbolStrokeColor": "#000000", "symbolSize": 40, "symbolStrokeWidth": 1, "titleAnchor": "middle", "labelOffset": 1}}
          }},
        {"data": {"values": [{"pc1": 0.0282, "pc2": -0.2057, "label": "Nganda 10"}]},
          "mark": {"type": "text", "fontSize": 14, "color": "#000000", "align": "center", "baseline": "middle"},
          "encoding": {"text": {"field": "label"}}}
      ],
      "resolve": {"scale": {"color": "independent"}}
    },
    {
      "width": 437,
      "height": 381,
      "title": {"text": "(c)", "orient": "left", "angle": 0, "anchor": "middle", "align": "center", "baseline": "middle", "fontSize": 22, "fontWeight": "bold", "color": "#000000", "offset": 16, "dy": -46},
      "encoding": {
        "x": {"field": "pc1", "type": "quantitative", "scale": {"domain": [-0.3765, 0.0694], "reverse": true, "nice": false, "zero": false},
          "axis": {"title": "PC1 (11.85% variance)", "values": [0.05, 0, -0.05, -0.1, -0.15, -0.2, -0.25, -0.3, -0.35], "labelExpr": "abs(datum.value*10 - round(datum.value*10)) < 0.001 ? replace(format(datum.value, '.1f'), '\u2212', '-') : ''", "titleX": 242, "titleY": 16}},
        "y": {"field": "pc2", "type": "quantitative", "scale": {"domain": [-0.2209, 0.2221], "nice": false, "zero": false},
          "axis": {"title": "PC2 (8.1% variance)", "values": [-0.2, -0.15, -0.1, -0.05, 0, 0.05, 0.1, 0.15], "labelExpr": "abs(datum.value*10 - round(datum.value*10)) < 0.001 ? replace(format(datum.value, '.1f'), '\u2212', '-') : ''", "titleX": -21}}
      },
      "layer": [
        {"data": {"values": [{"pc1": 0.0327, "pc2": 0.0233}]},
          "mark": {"type": "point", "shape": "M0.396,0C0.396,0.5523 0.2187,1 0,1C-0.2187,1 -0.396,0.5523 -0.396,0C-0.396,-0.5523 -0.2187,-1 0,-1C0.2187,-1 0.396,-0.5523 0.396,0Z", "size": 9216, "filled": false, "stroke": "#000000", "strokeWidth": 1, "opacity": 1}},
        {"data": {"values": [{"pc1": -0.298, "pc2": 0.0012}]},
          "mark": {"type": "point", "shape": "M1,0C1,0.1259 0.5523,0.228 0,0.228C-0.5523,0.228 -1,0.1259 -1,0C-1,-0.1259 -0.5523,-0.228 0,-0.228C0.5523,-0.228 1,-0.1259 1,0Z", "size": 18496, "filled": false, "stroke": "#000000", "strokeWidth": 1, "opacity": 1}},
        {"data": {"name": "c"}, "transform": [{"filter": {"field": "breed", "oneOf": ["ANK", "KJG"]}}],
          "mark": {"type": "point", "filled": false, "strokeWidth": 1, "opacity": 1, "size": 50},
          "encoding": {
            "color": {"field": "breed", "type": "nominal", "scale": {"domain": ["ANK", "KJG"], "range": ["#F8766D", "#B79F00"]},
              "legend": {"title": "Breed", "orient": "none", "legendX": 453, "legendY": 150, "symbolSize": 45, "symbolStrokeWidth": 1, "labelFontSize": 11.5, "rowPadding": -0.1, "labelOffset": 6, "titleAnchor": "start", "titlePadding": 0}},
            "shape": {"field": "breed", "type": "nominal", "scale": {"domain": ["ANK", "KJG"], "range": ["M-1,0L1,0M0,-1L0,1M-0.7,-0.7L0.7,0.7M-0.7,0.7L0.7,-0.7", "triangle-up"]},
              "legend": {"title": "Breed", "orient": "none", "legendX": 453, "legendY": 150, "symbolSize": 45, "symbolStrokeWidth": 1, "labelFontSize": 11.5, "rowPadding": -0.1, "labelOffset": 6, "titleAnchor": "start", "titlePadding": 0}}
          }},
        {"data": {"name": "c"}, "transform": [{"filter": {"field": "breed", "oneOf": ["NGA10", "NGA17"]}}],
          "mark": {"type": "point", "filled": false, "strokeWidth": 1, "opacity": 1, "size": 50},
          "encoding": {
            "color": {"field": "breed", "type": "nominal", "scale": {"domain": ["NGA10", "NGA17"], "range": ["#00BA38", "#00BFC4"]},
              "legend": {"title": null, "orient": "none", "legendX": 450, "legendY": 180, "padding": 3, "strokeColor": "#000000", "symbolSize": 45, "symbolStrokeWidth": 1, "labelFontSize": 11.5, "rowPadding": -0.1, "labelOffset": 6}},
            "shape": {"field": "breed", "type": "nominal", "scale": {"domain": ["NGA10", "NGA17"], "range": ["M-1,0L1,0M0,-1L0,1", "M-0.75,-0.75L0.75,0.75M-0.75,0.75L0.75,-0.75"]},
              "legend": {"title": null, "orient": "none", "legendX": 450, "legendY": 180, "padding": 3, "strokeColor": "#000000", "symbolSize": 45, "symbolStrokeWidth": 1, "labelFontSize": 11.5, "rowPadding": -0.1, "labelOffset": 6}}
          }},
        {"data": {"name": "c"}, "transform": [{"filter": {"field": "breed", "oneOf": ["NKD", "NTK"]}}],
          "mark": {"type": "point", "filled": false, "strokeWidth": 1, "opacity": 1, "size": 50},
          "encoding": {
            "color": {"field": "breed", "type": "nominal", "scale": {"domain": ["NKD", "NTK"], "range": ["#619CFF", "#F564E3"]},
              "legend": {"title": null, "orient": "none", "legendX": 453, "legendY": 206, "symbolSize": 45, "symbolStrokeWidth": 1, "labelFontSize": 11.5, "rowPadding": -0.1, "labelOffset": 6}},
            "shape": {"field": "breed", "type": "nominal", "scale": {"domain": ["NKD", "NTK"], "range": ["M-0.75,-0.75L0.75,-0.75L0.75,0.75L-0.75,0.75Z", "diamond"]},
              "legend": {"title": null, "orient": "none", "legendX": 453, "legendY": 206, "symbolSize": 45, "symbolStrokeWidth": 1, "labelFontSize": 11.5, "rowPadding": -0.1, "labelOffset": 6}}
          }},
        {"data": {"values": [{"pc1": 0.0245, "pc2": -0.0384, "label": "Nganda 17"}, {"pc1": -0.2888, "pc2": 0.0314, "label": "Nganda 10"}]},
          "mark": {"type": "text", "fontSize": 14, "color": "#000000", "align": "center", "baseline": "middle"},
          "encoding": {"text": {"field": "label"}}}
      ],
      "resolve": {"scale": {"color": "independent", "shape": "independent"}}
    }
  ],
  "resolve": {"scale": {"color": "independent", "shape": "independent"}}
}
